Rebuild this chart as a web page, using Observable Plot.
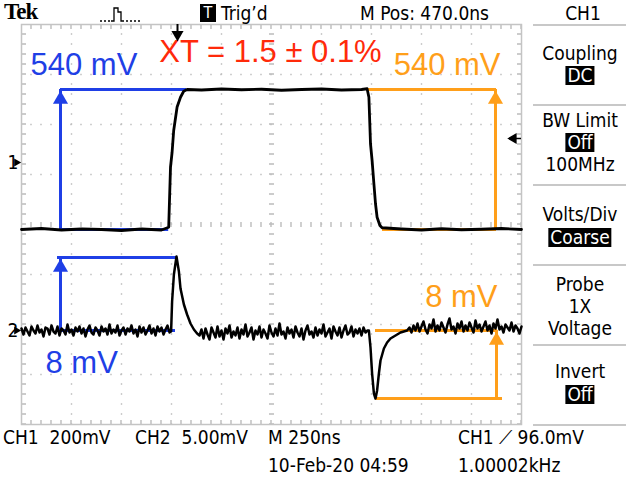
<!DOCTYPE html>
<html><head><meta charset="utf-8">
<script src="https://cdn.jsdelivr.net/npm/d3@7"></script>
<script src="https://cdn.jsdelivr.net/npm/@observablehq/plot@0.6"></script>
<style>
body{margin:0;background:#fff}
#scope{position:relative;width:640px;height:480px;overflow:hidden;background:#fff;font-family:"Liberation Sans Narrow","DejaVu Sans Condensed","Liberation Sans",sans-serif;color:#000}
#plot{position:absolute;left:0;top:0}
.t{position:absolute;white-space:nowrap;font-size:19px;line-height:19px}
.c{transform:translateX(-50%)}
.inv{background:#000;color:#fff;padding:0 2px}
.sep{position:absolute;left:533px;width:93px;height:2px;background:#c8c8c8}
</style></head><body>
<div id="scope">
<div id="plot"></div>
<!-- header -->
<div class="t" style="left:4px;top:0px;font-family:'Liberation Serif','DejaVu Serif',serif;font-weight:bold;font-size:23px;line-height:23px;letter-spacing:-1px">Tek</div>
<svg style="position:absolute;left:100px;top:4px" width="40" height="20"><path d="M0 17h2M4 17h2M8 17h2M11 17h3v-13h4v4h3v9h3M26 17h2M30 17h2M34 17h2M38 17h2" fill="none" stroke="#000" stroke-width="1.3"/></svg>
<div class="t" style="left:200px;top:4px;width:16px;height:18px;background:#000;color:#fff;text-align:center;font-size:16px;line-height:18px">T</div>
<div class="t" style="left:221px;top:4px">Trig’d</div>
<div class="t" style="left:360px;top:4px">M Pos: 470.0ns</div>
<!-- right panel -->
<div class="t c" style="left:583px;top:4px">CH1</div>
<div class="sep" style="top:24px"></div>
<div class="t c" style="left:580px;top:44px">Coupling</div>
<div class="t c inv" style="left:580px;top:66px">DC</div>
<div class="sep" style="top:104px"></div>
<div class="t c" style="left:580px;top:111px">BW Limit</div>
<div class="t c inv" style="left:580px;top:133px">Off</div>
<div class="t c" style="left:580px;top:155px">100MHz</div>
<div class="sep" style="top:184px"></div>
<div class="t c" style="left:580px;top:205px">Volts/Div</div>
<div class="t c inv" style="left:580px;top:228px">Coarse</div>
<div class="sep" style="top:264px"></div>
<div class="t c" style="left:580px;top:275px">Probe</div>
<div class="t c" style="left:580px;top:297px">1X</div>
<div class="t c" style="left:580px;top:319px">Voltage</div>
<div class="sep" style="top:344px"></div>
<div class="t c" style="left:580px;top:362px">Invert</div>
<div class="t c inv" style="left:580px;top:385px">Off</div>
<div class="sep" style="top:424px"></div>
<!-- footer -->
<div class="t" style="left:3px;top:428px">CH1&nbsp;&nbsp;200mV</div>
<div class="t" style="left:135px;top:428px">CH2&nbsp;&nbsp;5.00mV</div>
<div class="t" style="left:268px;top:428px">M 250ns</div>
<div class="t" style="left:458px;top:428px">CH1 ⟋ 96.0mV</div>
<div class="t" style="left:268px;top:456px">10-Feb-20 04:59</div>
<div class="t" style="left:458px;top:456px">1.00002kHz</div>
</div>
<script>
// ---- data (time in ns from left edge of screen, voltage in mV) ----
const nsPerDiv = 250;          // M 250ns
const ch1VoltsPerDiv = 200;    // CH1 200mV
const ch2VoltsPerDiv = 5;      // CH2 5.00mV
const ch1Offset = 1.24;        // CH1 ground marker, divisions from centre
const ch2Offset = -2.12;       // CH2 ground marker, divisions from centre
const triggerTime = 780;       // M Pos 470 ns left of centre
const triggerLevel = 96;       // CH1 trigger 96.0 mV

const ch1Time  = [0,100,200,300,400,500,600,700,736,745,753,761,778,795,811,828,900,1000,1100,1200,1300,1400,1500,1600,1700,1728,1737,1745,1753,1762,1770,1778,1792,1803,1900,2000,2100,2200,2300,2400,2500];
const ch1Volts = [-268,-264,-270,-266,-268,-272,-266,-270,-259,-19,41,128,222,261,285,292,290,294,291,293,289,292,294,290,292,295,261,75,8,-85,-165,-219,-252,-261,-266,-270,-265,-269,-267,-264,-268];

// CH2: sampled every 10 ns on flat stretches, finer around the crosstalk spikes
const ch2BeforeVolts = [0.2,-0.4,0.3,-0.1,-0.5,0.4,0.0,-0.3,0.5,-0.2,
  0.1,-0.6,0.3,0.2,-0.4,0.5,-0.1,-0.3,0.4,-0.5,
  0.2,0.0,-0.4,0.6,-0.2,0.1,-0.5,0.3,-0.1,0.4,
  -0.3,0.2,-0.6,0.1,0.5,-0.2,-0.4,0.3,0.0,-0.5,
  0.4,-0.1,0.2,-0.4,0.6,-0.3,0.1,-0.2,0.5,-0.5,
  0.0,0.3,-0.4,0.2,-0.1,0.5,-0.3,0.1,-0.6,0.4,
  -0.2,0.3,-0.4,0.0,0.5,-0.3,0.2,-0.5,0.4,-0.1,
  0.3,-0.4,0.1,0.5,-0.2];                                   // 0 … 740 ns
const ch2RiseTime  = [748,753,762,775,787,795,812,828,845,862,878];
const ch2RiseVolts = [-0.1,2.9,5.6,7.4,5.9,4.2,2.6,1.6,0.7,0.1,-0.3];
const ch2MiddleVolts = [-0.5,0.1,-0.8,0.2,-0.4,-0.9,0.3,-0.2,-0.7,0.4,
  -0.6,0.0,-0.9,0.2,-0.3,0.5,-0.7,-0.1,-0.5,0.3,
  -0.8,0.1,-0.4,0.6,-0.6,-0.2,0.3,-0.9,0.0,-0.4,
  0.4,-0.7,0.1,-0.3,-0.8,0.5,-0.2,-0.6,0.2,-0.5,
  0.7,-0.4,-0.1,-0.8,0.3,-0.3,0.1,-0.7,0.4,-0.2,
  -0.6,0.2,-0.9,0.0,0.5,-0.4,-0.1,-0.7,0.3,-0.5,
  0.1,-0.3,0.6,-0.6,-0.2,0.2,-0.8,0.4,-0.1,-0.5,
  0.3,-0.7,0.0,0.5,-0.4,-0.2,0.4,-0.6,0.1,-0.3,
  0.2,-0.5,0.3,-0.2,0.0];                                   // 890 … 1730 ns
const ch2FallTime  = [1737,1745,1753,1762,1770,1778,1787,1795,1812,1828,1845,1870,1895,1928];
const ch2FallVolts = [0,-1.7,-4.3,-6.3,-6.8,-6.0,-4.3,-3.0,-1.8,-1.2,-0.8,-0.5,-0.2,0];
const ch2AfterVolts = [0.3,-0.2,0.5,0.0,0.7,-0.1,0.4,0.9,0.1,-0.3,
  0.6,0.2,1.1,-0.1,0.5,0.0,0.8,0.3,-0.2,0.6,
  1.2,0.1,0.4,-0.3,0.7,0.2,0.9,-0.1,0.5,0.0,
  0.8,0.3,-0.2,1.0,0.2,0.6,-0.1,0.4,0.9,0.0,
  0.5,-0.3,0.7,0.2,1.1,0.1,0.4,-0.2,0.6,0.3,
  0.0,0.8,-0.1,0.5,0.2,-0.3,0.4];                           // 1940 … 2500 ns

// measurement annotations
const ch1Low = -268, ch1High = 292;               // CH1 levels marked "540 mV"
const ch2Base = 0, ch2Peak = 7.3, ch2Dip = -6.8;  // CH2 levels marked "8 mV"
const blue = "#1f3fe6", orange = "#ff9f1a", red = "#ff2a0a";
const hLines = [ // horizontal marker lines: channel, level, start, end (ns)
  {ch:1, v:ch1High, t1:195,  t2:825,  c:blue},
  {ch:1, v:ch1Low,  t1:195,  t2:736,  c:blue},
  {ch:2, v:ch2Peak, t1:180,  t2:775,  c:blue},
  {ch:2, v:ch2Base, t1:180,  t2:770,  c:blue},
  {ch:1, v:ch1High, t1:1735, t2:2375, c:orange},
  {ch:1, v:ch1Low,  t1:1805, t2:2375, c:orange},
  {ch:2, v:ch2Base, t1:1770, t2:2380, c:orange},
  {ch:2, v:ch2Dip,  t1:1770, t2:2405, c:orange}
];
const arrows = [ // vertical arrows: channel, time, from, to, label
  {ch:1, t:195,  v1:ch1Low,  v2:ch1High, c:blue,   label:"540 mV"},
  {ch:2, t:195,  v1:ch2Base, v2:ch2Peak, c:blue,   label:"8 mV"},
  {ch:1, t:2370, v1:ch1Low,  v2:ch1High, c:orange, label:"540 mV"},
  {ch:2, t:2375, v1:ch2Dip,  v2:ch2Base, c:orange, label:"8 mV"}
];
const labelStyle = [ // text placement relative to arrow top
  {anchor:"start", dx:-30, dy:-24},
  {anchor:"start", dx:-15, dy:106},
  {anchor:"end",   dx:5,   dy:-24},
  {anchor:"end",   dx:1,   dy:-33}
];
const title = "XT = 1.5 ± 0.1%";

// ---- conversion to screen divisions ----
const div1 = v => ch1Offset + v / ch1VoltsPerDiv;
const div2 = v => ch2Offset + v / ch2VoltsPerDiv;
const toDiv = (ch, v) => ch === 1 ? div1(v) : div2(v);
const ch1 = ch1Time.map((t, i) => ({t, y: div1(ch1Volts[i])}));
const ch2Time = [...d3.range(0, 741, 10), ...ch2RiseTime, ...d3.range(890, 1731, 10), ...ch2FallTime, ...d3.range(1940, 2501, 10)];
const ch2Volts = [...ch2BeforeVolts, ...ch2RiseVolts, ...ch2MiddleVolts, ...ch2FallVolts, ...ch2AfterVolts];
const ch2 = ch2Time.map((t, i) => ({t, y: div2(ch2Volts[i])}));

const xGrid = d3.range(nsPerDiv, 10 * nsPerDiv, nsPerDiv).filter(d => d !== 5 * nsPerDiv);
const yGrid = [-3,-2,-1,1,2,3];
const dot = {stroke:"#bcbcbc", strokeWidth:1.4, strokeDasharray:"1.4,8.6", strokeDashoffset:0.7};
const tick = {stroke:"#bcbcbc", strokeDasharray:"1.4,8.6", strokeDashoffset:0.7};
const sans = "Liberation Sans, Arial, sans-serif";

const chart = Plot.plot({
  width: 640, height: 480,
  marginLeft: 21, marginRight: 119, marginTop: 24, marginBottom: 56,
  x: {domain: [0, 10 * nsPerDiv], axis: null},
  y: {domain: [-4, 4], axis: null},
  style: {background: "transparent", overflow: "visible"},
  marks: [
    Plot.ruleX(xGrid, dot),
    Plot.ruleY(yGrid, dot),
    Plot.ruleX([5 * nsPerDiv], {...tick, strokeWidth: 5}),
    Plot.ruleY([0], {...tick, strokeWidth: 5}),
    Plot.ruleX([0, 10 * nsPerDiv], {...tick, strokeWidth: 9, clip: true}),
    Plot.ruleY([-4, 4], {...tick, strokeWidth: 9, clip: true}),
    Plot.frame({stroke: "#c4c4c4", strokeWidth: 1.5}),
    // measurement markers
    Plot.ruleY(hLines, {y: d => toDiv(d.ch, d.v), x1: "t1", x2: "t2", stroke: "c", strokeWidth: 3}),
    Plot.ruleX(arrows, {x: "t", y1: d => toDiv(d.ch, d.v1), y2: d => toDiv(d.ch, d.v2), stroke: "c", strokeWidth: 3}),
    Plot.dot(arrows, {x: "t", y: d => toDiv(d.ch, d.v2), symbol: "triangle", r: 5.6, fill: "c", stroke: null, dy: 10}),
    // traces
    Plot.line(ch1, {x: "t", y: "y", stroke: "#000", strokeWidth: 2.8}),
    Plot.line(ch2, {x: "t", y: "y", stroke: "#000", strokeWidth: 2.5}),
    // labels
    ...arrows.map((a, i) => Plot.text([a], {x: "t", y: d => toDiv(d.ch, d.v2), text: "label", fill: a.c,
      textAnchor: labelStyle[i].anchor, dx: labelStyle[i].dx, dy: labelStyle[i].dy, fontSize: 31, fontFamily: sans})),
    Plot.text([title], {x: 5 * nsPerDiv, y: 4, text: d => d, fill: red, fontSize: 31, dy: 28, dx: -1, fontFamily: sans}),
    // channel ground markers
    Plot.text([1, 2], {y: d => d === 1 ? ch1Offset : ch2Offset, frameAnchor: "left", text: d => String(d), dx: -14, fontSize: 19, fill: "#000", fontFamily: "Liberation Sans Narrow, DejaVu Sans Condensed, sans-serif"}),
    Plot.dot([ch1Offset, ch2Offset], {y: d => d, frameAnchor: "left", symbol: "triangle", rotate: 90, r: 3, fill: "#000", stroke: null, dx: -5}),
    // trigger position (top) and trigger level (right)
    Plot.ruleX([triggerTime], {y1: 4, y2: 3.86, stroke: "#000", strokeWidth: 2}),
    Plot.dot([triggerTime], {x: d => d, y: 4, symbol: "triangle", rotate: 180, r: 4.5, fill: "#000", stroke: null, dy: 10}),
    Plot.ruleY([triggerLevel], {y: d => div1(d), x1: 2440, x2: 2500, stroke: "#000", strokeWidth: 1.5}),
    Plot.dot([triggerLevel], {x: 10 * nsPerDiv, y: d => div1(d), symbol: "triangle", rotate: -90, r: 4, fill: "#000", stroke: null, dx: -8})
  ]
});
document.getElementById("plot").appendChild(chart);
</script>
</body></html>
